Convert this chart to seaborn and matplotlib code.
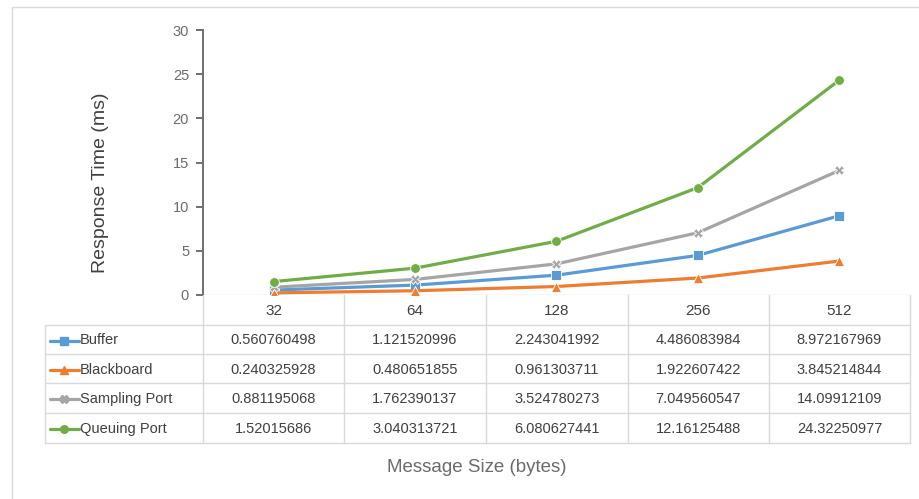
import matplotlib
matplotlib.use("Agg")
import matplotlib.pyplot as plt
from matplotlib.lines import Line2D
import seaborn as sns
import pandas as pd

# Message sizes (bytes) and measured response times (ms) per communication mechanism
sizes = ["32", "64", "128", "256", "512"]
buffer_ms = [0.560760498, 1.121520996, 2.243041992, 4.486083984, 8.972167969]
blackboard_ms = [0.240325928, 0.480651855, 0.961303711, 1.922607422, 3.845214844]
sampling_ms = [0.881195068, 1.762390137, 3.524780273, 7.049560547, 14.09912109]
queuing_ms = [1.52015686, 3.040313721, 6.080627441, 12.16125488, 24.32250977]
series_names = ["Buffer", "Blackboard", "Sampling Port", "Queuing Port"]
y_ticks = [0, 5, 10, 15, 20, 25, 30]

series_values = [buffer_ms, blackboard_ms, sampling_ms, queuing_ms]
colors = {"Buffer": "#5B9BD5", "Blackboard": "#ED7D31",
          "Sampling Port": "#A5A5A5", "Queuing Port": "#70AD47"}
markers = {"Buffer": "s", "Blackboard": "^",
           "Sampling Port": "X", "Queuing Port": "o"}

df = pd.DataFrame([
    {"size": s, "series": name, "ms": v}
    for name, vals in zip(series_names, series_values)
    for s, v in zip(sizes, vals)
])

sns.set_theme(style="white")
plt.rcParams["font.family"] = ["Liberation Sans", "DejaVu Sans"]

W, H = 920, 499
fig = plt.figure(figsize=(W / 100, H / 100), dpi=100)


def fx(px):
    return px / W


def fy(py):
    return 1 - py / H


# plot area in pixel coordinates
left, right, top, bottom = 203, 910, 30, 295
ax = fig.add_axes([fx(left), fy(bottom), fx(right - left), (bottom - top) / H])

sns.lineplot(data=df, x="size", y="ms", hue="series", style="series",
             palette=colors, markers=markers, dashes=False, linewidth=2.3,
             markersize=7, markeredgewidth=0.6, sort=False, legend=False, ax=ax)

ax.set_xlim(-0.5, len(sizes) - 0.5)
ax.set_ylim(0, 30)
ax.set_yticks(y_ticks)
ax.set_yticklabels([str(t) for t in y_ticks], color="#6b6b6b", fontsize=10.5)
ax.set_xticks([])
ax.set_xlabel("")
ax.set_ylabel("")
for side in ["top", "right", "bottom"]:
    ax.spines[side].set_visible(False)
ax.spines["left"].set_color("#6f6f6f")
ax.spines["left"].set_linewidth(1.4)
ax.tick_params(axis="y", which="major", direction="out", length=5, width=1.4,
               color="#6f6f6f", pad=5, left=True)
ax.axhline(0, color="#d9d9d9", lw=1.0, zorder=0)

# axis titles
fig.text(fx(101), fy(183), "Response Time (ms)", rotation=90, ha="center",
         va="center", fontsize=14, color="#404040")
fig.text(fx(477), fy(468), "Message Size (bytes)", ha="center", va="center",
         fontsize=13.5, color="#6b6b6b")

# data table below the plot
grid = "#d9d9d9"
col_edges = [203, 344, 486, 628, 769, 910]
row_edges = [325, 354, 383, 413, 443]
tbl_left = 45


def hline(x0, x1, y):
    fig.add_artist(Line2D([fx(x0), fx(x1)], [fy(y), fy(y)], color=grid, lw=1.0))


def vline(x, y0, y1):
    fig.add_artist(Line2D([fx(x), fx(x)], [fy(y0), fy(y1)], color=grid, lw=1.0))


for y in row_edges:
    hline(tbl_left, col_edges[-1], y)
vline(tbl_left, row_edges[0], row_edges[-1])
for x in col_edges:
    vline(x, bottom, row_edges[-1])

for i, s in enumerate(sizes):
    cx = (col_edges[i] + col_edges[i + 1]) / 2
    fig.text(fx(cx), fy((bottom + row_edges[0]) / 2 + 1), s, ha="center",
             va="center", fontsize=11, color="#404040")


def excel_general(v):
    digits = 10 - len(str(int(v)))
    return f"{v:.{digits}f}".rstrip("0").rstrip(".")


for r, (name, vals) in enumerate(zip(series_names, series_values)):
    cy = (row_edges[r] + row_edges[r + 1]) / 2 + 1
    fig.add_artist(Line2D([fx(50), fx(79)], [fy(cy), fy(cy)],
                          color=colors[name], lw=2.3))
    fig.add_artist(Line2D([fx(64.5)], [fy(cy)], color=colors[name],
                          marker=markers[name], markersize=5.5, lw=0))
    fig.text(fx(80), fy(cy), name, ha="left", va="center", fontsize=10.5,
             color="#404040")
    for i, v in enumerate(vals):
        cx = (col_edges[i] + col_edges[i + 1]) / 2
        fig.text(fx(cx), fy(cy), excel_general(v), ha="center", va="center",
                 fontsize=10.5, color="#404040")

# chart frame (top and left edges)
fig.add_artist(Line2D([fx(12), fx(W)], [fy(7), fy(7)], color="#d9d9d9", lw=1.0))
fig.add_artist(Line2D([fx(12), fx(12)], [fy(7), 0], color="#d9d9d9", lw=1.0))

fig.savefig("out.png", dpi=100, facecolor="white")
